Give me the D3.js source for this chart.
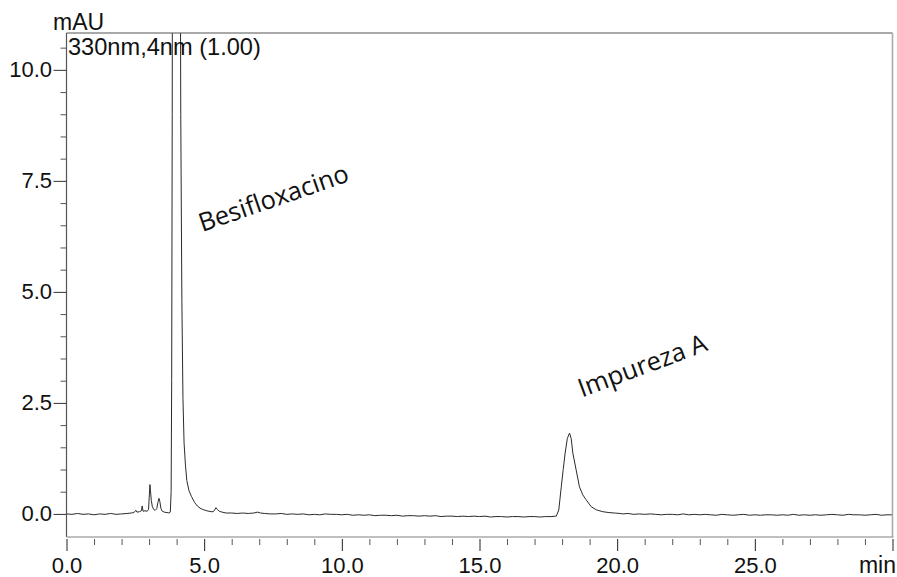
<!DOCTYPE html>
<html><head><meta charset="utf-8">
<script src="https://cdn.jsdelivr.net/npm/d3@7"></script>
<style>body{margin:0;background:#fff}</style>
</head><body>
<svg id="chart" width="897" height="577"></svg>
<script>
// ---------- data ----------
const xMajorTicks = [0, 5, 10, 15, 20, 25];
const xTickLabels = ["0.0", "5.0", "10.0", "15.0", "20.0", "25.0"];
const xEndTick = 30;
const xUnitLabel = "min";
const xMinorTicks = [1,2,3,4,6,7,8,9,11,12,13,14,16,17,18,19,21,22,23,24,26,27,28,29];
const yMajorTicks = [0, 2.5, 5, 7.5, 10];
const yTickLabels = ["0.0", "2.5", "5.0", "7.5", "10.0"];
const yMinorTicks = [0.5,1,1.5,2,3,3.5,4,4.5,5.5,6,6.5,7,8,8.5,9,9.5,10.5];
const yUnitLabel = "mAU";
const channelLabel = "330nm,4nm (1.00)";
const peakLabels = [
  { text: "Besifloxacino", t: 4.93, v: 6.35, angle: -19 },
  { text: "Impureza A", t: 18.72, v: 2.62, angle: -20.5 }
];
// chromatogram trace: [retention time (min), absorbance (mAU)]
const chromatogram = [
  [0,0.00],[0.2,-0.01],[0.4,0.01],[0.6,-0.01],[0.8,0.00],[1.0,-0.02],[1.2,0.00],[1.4,-0.01],
  [1.6,0.01],[1.8,-0.01],[2.0,0.00],[2.2,0.01],[2.35,0.02],[2.45,0.03],[2.52,0.08],[2.56,0.04],
  [2.65,0.05],[2.72,0.07],[2.75,0.18],[2.78,0.06],[2.85,0.07],[2.93,0.06],[2.98,0.10],[3.01,0.45],
  [3.03,0.66],[3.05,0.52],[3.08,0.30],[3.12,0.16],[3.17,0.10],[3.22,0.08],[3.28,0.12],[3.32,0.26],
  [3.36,0.35],[3.39,0.28],[3.43,0.12],[3.48,0.06],[3.55,0.04],[3.65,0.03],[3.72,0.02],[3.77,0.04],
  [3.80,0.5],[3.82,3],[3.84,9],[3.86,20],[3.90,36],[3.95,46],[4.00,48],[4.05,42],[4.09,28],
  [4.12,16],[4.15,9],[4.19,4.8],[4.23,2.6],[4.27,1.6],[4.32,1.1],[4.37,0.75],[4.45,0.52],
  [4.54,0.39],[4.65,0.26],[4.75,0.18],[4.85,0.13],[4.95,0.10],[5.10,0.07],[5.25,0.05],[5.33,0.05],
  [5.38,0.09],[5.43,0.14],[5.48,0.10],[5.55,0.06],[5.65,0.04],[5.8,0.02],[6.0,0.02],[6.2,0.01],
  [6.4,0.02],[6.6,0.01],[6.8,0.02],[6.94,0.04],[7.05,0.02],[7.2,0.01],[7.4,0.00],[7.6,0.00],
  [7.8,0.01],[8.0,-0.01],[8.2,0.00],[8.4,-0.01],[8.6,0.00],[8.8,-0.02],[9.0,-0.01],[9.2,-0.02],
  [9.4,0.00],[9.6,-0.01],[9.8,-0.01],[10.0,-0.02],[10.2,-0.01],[10.4,-0.03],[10.6,-0.02],[10.8,-0.03],
  [11.0,-0.02],[11.2,-0.04],[11.4,-0.03],[11.6,-0.03],[11.8,-0.04],[12.0,-0.03],[12.2,-0.05],[12.4,-0.04],
  [12.6,-0.04],[12.8,-0.05],[13.0,-0.04],[13.2,-0.05],[13.4,-0.04],[13.6,-0.06],[13.8,-0.05],[14.0,-0.05],
  [14.2,-0.06],[14.4,-0.05],[14.6,-0.06],[14.8,-0.05],[15.0,-0.06],[15.2,-0.05],[15.4,-0.07],[15.6,-0.06],
  [15.8,-0.06],[16.0,-0.07],[16.2,-0.06],[16.4,-0.06],[16.6,-0.07],[16.8,-0.06],[17.0,-0.06],[17.2,-0.07],
  [17.4,-0.06],[17.6,-0.06],[17.79,-0.05],[17.88,0.09],[17.97,0.61],[18.04,1.0],[18.11,1.37],[18.19,1.7],
  [18.27,1.82],[18.33,1.7],[18.39,1.37],[18.51,0.99],[18.63,0.61],[18.75,0.43],[18.87,0.32],[19.06,0.16],
  [19.25,0.09],[19.48,0.05],[19.7,0.03],[19.9,0.02],[20.1,0.01],[20.2,0.00],[20.4,0.01],[20.6,-0.01],
  [20.8,0.00],[21.0,-0.01],[21.2,0.00],[21.4,-0.01],[21.6,-0.02],[21.8,-0.01],[22.0,-0.01],[22.2,-0.02],
  [22.4,0.00],[22.6,-0.02],[22.8,-0.01],[23.0,-0.02],[23.2,-0.01],[23.4,-0.02],[23.6,-0.03],[23.8,-0.01],
  [24.0,-0.02],[24.2,-0.03],[24.4,-0.02],[24.6,-0.01],[24.8,-0.03],[25.0,-0.02],[25.2,-0.03],[25.4,-0.02],
  [25.6,-0.02],[25.8,-0.03],[26.0,-0.02],[26.2,-0.03],[26.4,-0.01],[26.6,-0.03],[26.8,-0.02],[27.0,-0.03],
  [27.2,-0.02],[27.4,-0.03],[27.6,-0.02],[27.8,-0.01],[28.0,-0.02],[28.2,-0.03],[28.4,-0.01],[28.6,-0.02],
  [28.8,-0.02],[29.0,-0.03],[29.2,-0.02],[29.4,-0.01],[29.6,-0.03],[29.8,-0.02],[30.0,-0.02]
];

// ---------- layout ----------
const frame = { left: 66.5, right: 892.5, top: 33, bottom: 537 };
const xDomain = [0, 30];
const yDomain = [-0.52, 10.83];
const tickFont = "'Liberation Sans', Arial, sans-serif";

const svg = d3.select("#chart");
const x = d3.scaleLinear().domain(xDomain).range([frame.left, frame.right]);
const y = d3.scaleLinear().domain(yDomain).range([frame.bottom, frame.top]);

// clip
svg.append("defs").append("clipPath").attr("id", "plotclip")
  .append("rect")
  .attr("x", frame.left).attr("y", frame.top)
  .attr("width", frame.right - frame.left).attr("height", frame.bottom - frame.top);

// trace
const line = d3.line().x(d => x(d[0])).y(d => y(d[1]));
svg.append("path")
  .datum(chromatogram)
  .attr("clip-path", "url(#plotclip)")
  .attr("fill", "none")
  .attr("stroke", "#2b2b2b")
  .attr("stroke-width", 1)
  .attr("d", line);

// frame: dark top/left, light bottom/right
svg.append("line").attr("x1", frame.left).attr("x2", frame.right).attr("y1", frame.top).attr("y2", frame.top)
  .attr("stroke", "#555").attr("stroke-width", 1.2);
svg.append("line").attr("x1", frame.left).attr("x2", frame.left).attr("y1", frame.top).attr("y2", frame.bottom)
  .attr("stroke", "#555").attr("stroke-width", 1.2);
svg.append("line").attr("x1", frame.left).attr("x2", frame.right + 1).attr("y1", frame.bottom).attr("y2", frame.bottom)
  .attr("stroke", "#aaa").attr("stroke-width", 1.6);
svg.append("line").attr("x1", frame.right).attr("x2", frame.right).attr("y1", frame.top).attr("y2", frame.bottom)
  .attr("stroke", "#aaa").attr("stroke-width", 1.6);

// y axis
const yAxisMajor = d3.axisLeft(y).tickValues(yMajorTicks)
  .tickFormat((d, i) => yTickLabels[i]).tickSize(13).tickPadding(1.5);
const gy = svg.append("g").attr("transform", `translate(${frame.left},0)`).call(yAxisMajor);
gy.select(".domain").remove();
gy.selectAll(".tick line").attr("stroke", "#333");
gy.selectAll(".tick text").attr("font-family", tickFont).attr("font-size", 22).attr("fill", "#111");
const gyMinor = svg.append("g").attr("transform", `translate(${frame.left},0)`)
  .call(d3.axisLeft(y).tickValues(yMinorTicks).tickSize(6).tickFormat(""));
gyMinor.select(".domain").remove();
gyMinor.selectAll(".tick line").attr("stroke", "#555");

// x axis
const axisY = frame.bottom + 2;
const xAxisMajor = d3.axisBottom(x).tickValues(xMajorTicks.concat([xEndTick]))
  .tickFormat((d, i) => xTickLabels[i] || "").tickSize(12);
const gx = svg.append("g").attr("transform", `translate(0,${axisY})`).call(xAxisMajor);
gx.select(".domain").remove();
gx.selectAll(".tick line").attr("stroke", "#222");
gx.selectAll(".tick text").attr("font-family", tickFont).attr("font-size", 22).attr("fill", "#111")
  .attr("y", 573 - axisY).attr("dy", null);
const gxMinor = svg.append("g").attr("transform", `translate(0,${axisY})`)
  .call(d3.axisBottom(x).tickValues(xMinorTicks).tickSize(6).tickFormat(""));
gxMinor.select(".domain").remove();
gxMinor.selectAll(".tick line").attr("stroke", "#555");

// unit labels
svg.append("text").attr("x", 896).attr("y", 573).attr("text-anchor", "end")
  .attr("font-family", tickFont).attr("font-size", 23).attr("fill", "#111").text(xUnitLabel);
svg.append("text").attr("x", 53).attr("y", 29.5)
  .attr("font-family", tickFont).attr("font-size", 23).attr("fill", "#111").text(yUnitLabel);
svg.append("text").attr("x", 68).attr("y", 55)
  .attr("font-family", tickFont).attr("font-size", 23.6).attr("fill", "#111").text(channelLabel);

// peak labels
svg.selectAll(".peaklabel").data(peakLabels).enter().append("text")
  .attr("class", "peaklabel")
  .attr("transform", d => `translate(${x(d.t)},${y(d.v)}) rotate(${d.angle})`)
  .attr("font-family", "'Open Sans', 'Noto Sans', sans-serif")
  .attr("font-size", 25.5).attr("fill", "#111")
  .text(d => d.text);
</script>
</body></html>
